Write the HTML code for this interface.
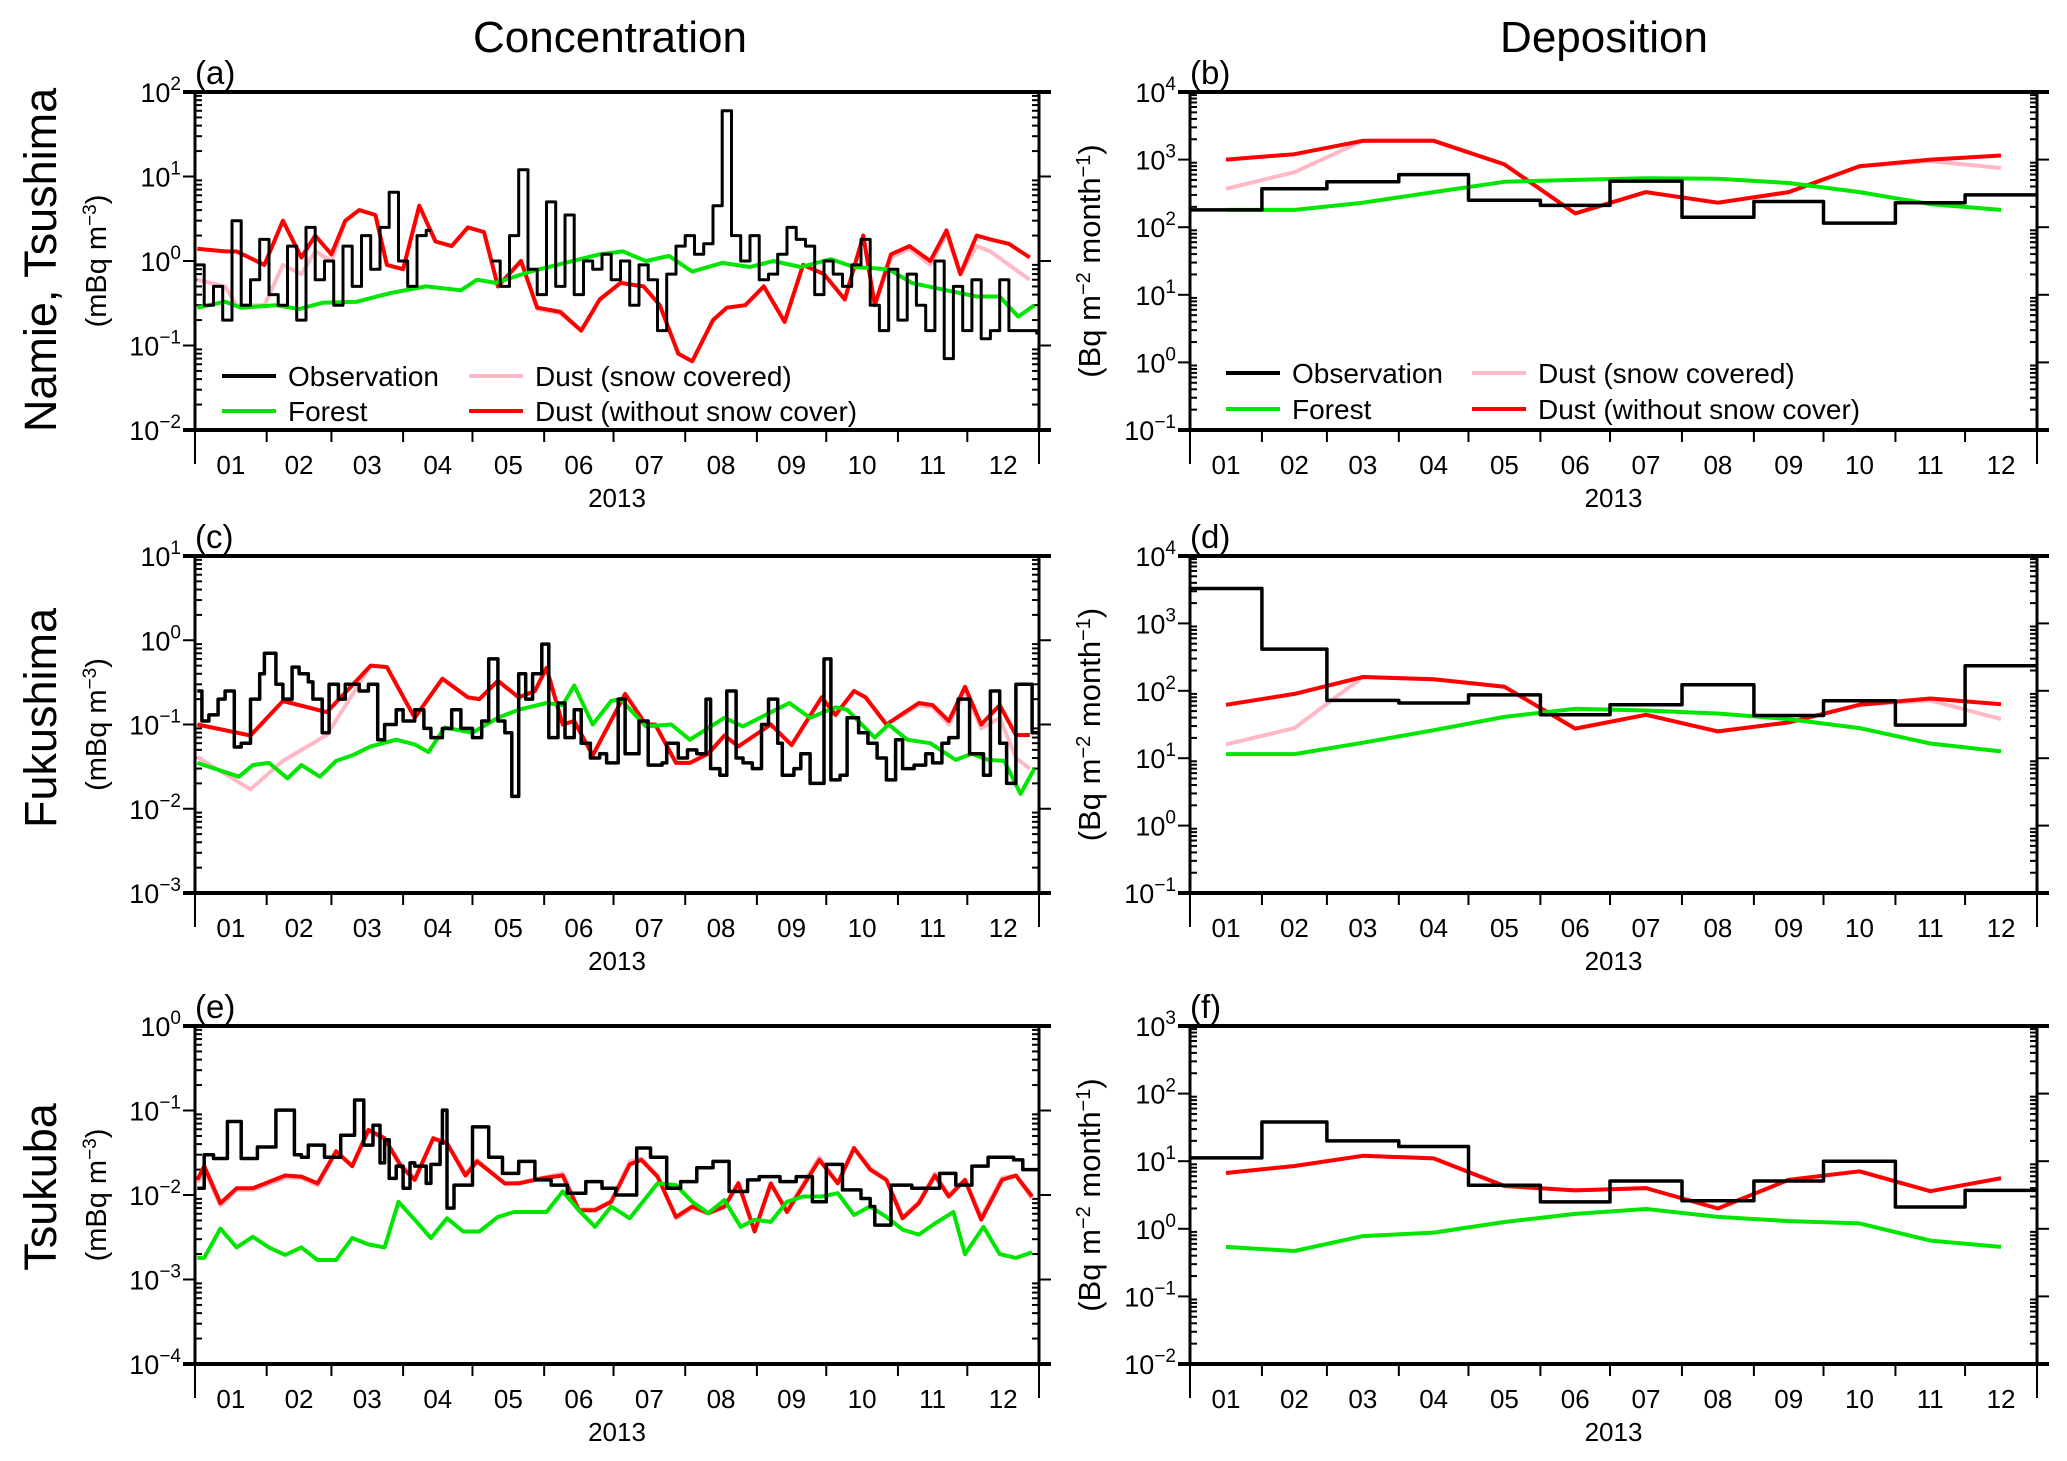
<!DOCTYPE html>
<html><head><meta charset="utf-8"><title>Concentration and Deposition 2013</title>
<style>
html,body{margin:0;padding:0;background:#fff;}
svg{display:block;font-family:"Liberation Sans",Arial,sans-serif;}
</style></head>
<body>
<svg id="fig" xmlns="http://www.w3.org/2000/svg" width="2067" height="1461" viewBox="0 0 2067 1461">
<rect x="0" y="0" width="2067" height="1461" fill="#fff"/>
<text x="610" y="52" font-size="44" text-anchor="middle">Concentration</text>
<text x="1604" y="52" font-size="44" text-anchor="middle">Deposition</text>
<text transform="translate(56,260) rotate(-90)" font-size="45" text-anchor="middle">Namie, Tsushima</text>
<text transform="translate(56,718) rotate(-90)" font-size="45" text-anchor="middle">Fukushima</text>
<text transform="translate(56,1187) rotate(-90)" font-size="45" text-anchor="middle">Tsukuba</text>
<g id="panels"></g>
</svg>
<script>
// ---------- data ----------
const monthLabels = ["01","02","03","04","05","06","07","08","09","10","11","12"];
const monthStarts = [0,31,59,90,120,151,181,212,243,273,304,334,365];

// (a) Namie, Tsushima concentration
const aObsDays = [0,4,8,12,16,20,24,28,32,36,40,44,48,52,56,60,64,68,72,76,80,84,88,92,96,100,102,
128,132,136,140,144,148,152,156,160,164,168,172,176,180,184,188,192,196,200,204,208,212,216,220,224,228,232,236,240,244,248,252,256,260,264,268,272,276,280,284,288,292,296,300,304,308,312,316,320,324,328,332,336,340,344,348,352,356,360,364];
const aObsVals = [0.9,0.3,0.5,0.2,3.0,0.3,0.6,1.8,0.4,0.3,1.5,0.2,2.5,0.6,1.0,0.3,1.5,0.5,2.0,0.8,2.5,6.5,1.0,0.5,2.0,2.3,null,
1.0,0.5,2.0,12,0.8,0.4,5.0,0.5,3.5,0.4,1.0,0.8,1.2,0.6,1.0,0.3,0.9,0.6,0.15,0.7,1.5,2.0,1.2,1.6,4.5,60,2.0,1.0,2.0,0.6,0.7,1.2,2.5,1.8,1.5,0.4,1.0,0.7,0.5,0.9,1.8,0.3,0.15,0.8,0.2,0.7,0.3,0.15,1.0,0.07,0.5,0.15,0.6,0.12,0.15,0.6,0.15,0.15,0.15,0.14];
const aDustDays = [1,13,18,30,38,46,52,59,65,71,78,83,90,97,104,111,118,125,131,141,148,158,167,175,184,194,201,209,215,224,230,238,246,255,263,272,281,289,294,301,309,318,325,331,338,344,352,361];
const aDustNoSnow = [1.4,1.3,1.3,0.9,3.0,1.1,2.0,1.2,3.0,4.0,3.5,0.9,0.8,4.5,1.7,1.5,2.5,2.2,0.5,1.0,0.28,0.25,0.15,0.35,0.55,0.5,0.3,0.08,0.065,0.2,0.28,0.3,0.5,0.19,0.9,0.7,0.35,2.0,0.3,1.2,1.5,1.0,2.3,0.7,2.0,1.8,1.6,1.1];
const aDustSnow = [0.6,0.5,0.3,0.3,0.9,0.7,1.3,1.0,3.0,4.0,3.5,0.9,0.8,4.5,1.7,1.5,2.5,2.2,0.5,1.0,0.27,0.24,0.15,0.35,0.55,0.5,0.3,0.08,0.065,0.2,0.28,0.3,0.5,0.19,0.9,0.7,0.35,2.0,0.3,1.1,1.4,0.9,2.1,0.7,1.5,1.3,0.9,0.6];
const aForestDays = [1,13,20,35,45,55,70,85,100,115,122,130,145,160,175,185,195,205,215,228,240,250,262,275,285,300,310,325,338,348,356,363];
const aForest = [0.28,0.33,0.28,0.3,0.27,0.32,0.33,0.42,0.5,0.45,0.6,0.55,0.75,0.95,1.2,1.3,1.0,1.15,0.75,0.95,0.85,1.0,0.85,1.05,0.85,0.8,0.55,0.45,0.38,0.38,0.22,0.3];

// (b) Namie, Tsushima deposition (monthly)
const bObs = [180,370,470,600,250,210,480,140,240,115,230,300];
const bDustNoSnow = [1000,1200,1900,1900,850,160,330,230,330,800,1000,1150];
const bDustSnow = [370,650,1900,1900,850,160,330,230,330,800,950,750];
const bForest = [180,180,230,330,470,500,530,520,450,330,220,180];

// (c) Fukushima concentration
const cObsDays = [1,3,6,10,13,17,20,24,28,30,35,38,42,45,49,51,55,58,62,65,71,75,79,82,87,90,95,99,102,107,111,115,120,124,127,131,134,137,140,143,146,150,153,157,160,164,167,171,175,178,183,186,192,196,202,204,209,213,217,221,223,227,230,234,237,241,245,248,252,254,259,262,266,268,272,275,279,282,287,291,295,299,303,306,311,316,319,323,326,330,335,341,344,348,351,355,358,362];
const cObsVals = [0.25,0.11,0.13,0.2,0.25,0.054,0.06,0.2,0.4,0.7,0.3,0.2,0.48,0.4,0.32,0.2,0.08,0.3,0.2,0.3,0.25,0.3,0.066,0.1,0.15,0.11,0.15,0.09,0.07,0.09,0.15,0.09,0.07,0.11,0.6,0.11,0.08,0.014,0.4,0.2,0.4,0.9,0.07,0.18,0.07,0.15,0.06,0.04,0.045,0.035,0.2,0.045,0.11,0.033,0.035,0.06,0.04,0.05,0.045,0.2,0.03,0.025,0.25,0.04,0.035,0.03,0.1,0.2,0.06,0.025,0.03,0.045,0.02,0.02,0.6,0.022,0.025,0.12,0.08,0.06,0.04,0.022,0.066,0.03,0.033,0.045,0.035,0.06,0.07,0.2,0.045,0.025,0.25,0.06,0.02,0.3,0.3,0.08];
const cDustDays = [1,24,38,57,76,83,95,107,118,123,131,140,147,152,159,164,172,186,195,199,208,214,222,229,235,249,258,271,277,285,290,299,313,319,326,333,340,348,355,361];
const cDustNoSnow = [0.10,0.074,0.19,0.14,0.5,0.48,0.12,0.35,0.21,0.2,0.33,0.21,0.25,0.47,0.10,0.11,0.043,0.23,0.10,0.10,0.035,0.035,0.045,0.074,0.055,0.10,0.057,0.21,0.13,0.25,0.21,0.10,0.18,0.17,0.11,0.28,0.10,0.17,0.075,0.075];
const cDustSnow = [0.041,0.017,0.037,0.075,0.5,0.48,0.12,0.35,0.21,0.2,0.33,0.21,0.25,0.47,0.10,0.11,0.043,0.23,0.10,0.10,0.035,0.035,0.045,0.074,0.055,0.10,0.057,0.21,0.13,0.25,0.21,0.10,0.17,0.16,0.10,0.25,0.09,0.12,0.04,0.03];
const cForestDays = [1,19,25,32,40,46,54,61,68,76,87,95,101,108,120,131,140,152,159,164,172,180,184,195,206,214,229,237,257,266,277,282,294,300,308,318,329,336,343,350,357,363];
const cForest = [0.035,0.024,0.033,0.035,0.023,0.033,0.024,0.037,0.043,0.055,0.066,0.058,0.047,0.092,0.08,0.12,0.15,0.18,0.17,0.29,0.1,0.19,0.2,0.095,0.1,0.066,0.12,0.095,0.18,0.12,0.16,0.15,0.07,0.1,0.066,0.06,0.038,0.045,0.038,0.037,0.015,0.03];

// (d) Fukushima deposition
const dObs = [3300,415,72,66,87,44,62,123,43,71,31,235];
const dDustNoSnow = [62,90,160,148,115,27.5,44,25,34,62,77,63];
const dDustSnow = [16,28,160,148,115,27.5,44,25,34,62,72,38];
const dForest = [11.5,11.5,17,26,41,54,51,46,38,28,16.5,12.6];

// (e) Tsukuba concentration
const eObsDays = [1,4,8,14,20,27,35,43,46,49,56,63,69,73,77,80,82,84,87,90,93,95,100,102,106,107,109,112,120,127,133,140,147,154,161,169,176,182,191,197,204,210,217,224,231,239,244,253,260,267,273,280,288,292,294,301,310,316,322,329,336,343,349,354,358];
const eObsVals = [0.012,0.030,0.027,0.074,0.027,0.037,0.101,0.030,0.028,0.039,0.028,0.051,0.133,0.039,0.067,0.024,0.045,0.0157,0.022,0.012,0.024,0.022,0.0137,0.023,0.041,0.101,0.007,0.0131,0.064,0.028,0.018,0.025,0.0151,0.0131,0.0105,0.0144,0.012,0.010,0.036,0.028,0.012,0.0144,0.021,0.025,0.011,0.0151,0.0165,0.0144,0.0165,0.0083,0.023,0.0115,0.0091,0.0073,0.0044,0.0131,0.012,0.012,0.018,0.0131,0.022,0.028,0.028,0.026,0.020];
const eDustDays = [1,4,11,18,25,39,46,53,61,68,75,82,89,95,103,109,117,122,134,140,150,159,166,173,180,188,193,200,208,215,222,229,235,242,249,256,270,278,285,292,299,306,313,320,326,333,340,349,355,362];
const eDustNoSnow = [0.0151,0.022,0.008,0.012,0.012,0.017,0.0165,0.0137,0.033,0.022,0.059,0.047,0.022,0.0151,0.047,0.041,0.017,0.025,0.0137,0.0137,0.0157,0.017,0.0066,0.0066,0.0083,0.023,0.026,0.0165,0.0055,0.0073,0.0061,0.0073,0.0137,0.0037,0.0137,0.0063,0.026,0.0137,0.036,0.020,0.0151,0.0053,0.008,0.017,0.0096,0.0151,0.0051,0.0151,0.017,0.0096];
const eDustSnow = [0.014,0.02,0.0075,0.0115,0.0115,0.016,0.016,0.013,0.032,0.022,0.057,0.046,0.023,0.016,0.046,0.04,0.018,0.026,0.0135,0.014,0.016,0.018,0.0068,0.0068,0.0085,0.025,0.027,0.017,0.0053,0.007,0.006,0.0072,0.014,0.0038,0.0135,0.0065,0.028,0.014,0.035,0.021,0.015,0.0055,0.0082,0.018,0.01,0.015,0.0055,0.016,0.017,0.009];
const eForestDays = [1,4,11,18,25,32,39,46,53,61,68,75,82,88,95,102,109,116,123,131,138,145,152,159,166,173,180,188,200,208,215,222,229,236,242,249,256,263,271,278,285,292,299,306,313,320,328,333,341,348,355,362];
const eForest = [0.0018,0.0018,0.0040,0.0024,0.0032,0.0024,0.00195,0.0024,0.0017,0.0017,0.0031,0.0026,0.0024,0.0083,0.0051,0.0031,0.0053,0.0037,0.0037,0.0055,0.0063,0.0063,0.0063,0.011,0.0066,0.0042,0.0073,0.0053,0.0137,0.0131,0.0083,0.0061,0.0087,0.0042,0.0051,0.0048,0.0083,0.0096,0.0096,0.0105,0.0058,0.0073,0.0055,0.0039,0.0034,0.0046,0.0063,0.0020,0.0042,0.0020,0.0018,0.0021];

// (f) Tsukuba deposition
const fObs = [11.2,38,20,16.5,4.4,2.5,5.1,2.6,5.1,10,2.1,3.7];
const fDustNoSnow = [6.7,8.5,12,11,4.3,3.7,4.0,2.0,5.3,7.1,3.6,5.6];
const fDustSnow = [6.7,8.5,12,11,4.3,3.7,4.0,2.0,5.3,7.1,3.6,5.6];
const fForest = [0.54,0.47,0.78,0.88,1.26,1.66,1.96,1.5,1.3,1.2,0.67,0.54];

// ---------- drawing ----------
const NS = "http://www.w3.org/2000/svg";
const root = document.getElementById('panels');
function mk(tag, attrs, parent){
  const e = document.createElementNS(NS, tag);
  for (const k in attrs) e.setAttribute(k, attrs[k]);
  (parent||root).appendChild(e);
  return e;
}
const C_RED="#ff0000", C_PINK="#ffb8c6", C_GREEN="#00e600", C_BLACK="#000";

function drawPanel(p){
  const g = mk('g', {});
  
  
  const x0=p.x0, x1=p.x1, y0=p.y0, y1=p.y1;
  const xs = d => x0 + (d/365)*(x1-x0);
  const ys = v => y1 - (Math.log10(v)-p.lo)/(p.hi-p.lo)*(y1-y0);
  const cp = mk('clipPath', {id:'clip-'+p.id}, g);
  mk('rect', {x:x0, y:y0, width:x1-x0, height:y1-y0}, cp);
  const lab = mk('text', {x:x0, y:y0-8, 'font-size':33}, g);
  lab.textContent = '(' + p.id + ')';
  
  
  const axG = mk('g', {stroke:'#000', 'stroke-width':2}, g);
  
  
  for (let e=p.lo; e<=p.hi; e++){
    const y = ys(Math.pow(10,e));
    mk('line', {x1:x0-12, y1:y, x2:x0, y2:y}, axG);
    mk('line', {x1:x1, y1:y, x2:x1+12, y2:y}, axG);
    const t = mk('text', {x:x0-14, y:y+10, 'font-size':27, 'text-anchor':'end', stroke:'none', fill:'#000'}, g);
    
    
    const s1 = mk('tspan', {}, t); s1.textContent = '10';
    const s2 = mk('tspan', {dy:-12, 'font-size':19}, t); s2.textContent = (e<0?'\u2212':'') + Math.abs(e);
    if (e<p.hi){
      for (let m=2;m<=9;m++){
        const ym = ys(m*Math.pow(10,e));
        mk('line', {x1:x0, y1:ym, x2:x0+7, y2:ym}, axG);
        mk('line', {x1:x1-7, y1:ym, x2:x1, y2:ym}, axG);
      }
    }
  }
  const yt = mk('text', {transform:`translate(${p.ytx},${(y0+y1)/2}) rotate(-90)`, 'font-size':p.kind==='conc'?29:31, 'text-anchor':'middle'}, g);
  
  
  if (p.kind==='conc'){
    const a=mk('tspan',{},yt); a.textContent='(mBq m';
    const b=mk('tspan',{dy:-10,'font-size':19},yt); b.textContent='\u22123';
    const c=mk('tspan',{dy:10},yt); c.textContent=')';
  } else {
    const a=mk('tspan',{},yt); a.textContent='(Bq m';
    const b=mk('tspan',{dy:-10,'font-size':20},yt); b.textContent='\u22122';
    const c=mk('tspan',{dy:10},yt); c.textContent=' month';
    const d=mk('tspan',{dy:-10,'font-size':20},yt); d.textContent='\u22121';
    const e=mk('tspan',{dy:10},yt); e.textContent=')';
  }
  const xg = mk('g', {stroke:'#000','stroke-width':2}, g);
  
  
  mk('line', {x1:x0, y1:y1, x2:x0, y2:y1+34}, xg);
  mk('line', {x1:x1, y1:y1, x2:x1, y2:y1+34}, xg);
  for (let i=1;i<12;i++){
    const x = xs(monthStarts[i]);
    mk('line', {x1:x, y1:y1, x2:x, y2:y1+12}, xg);
  }
  for (let i=0;i<12;i++){
    const t = mk('text', {x:xs((monthStarts[i]+monthStarts[i+1])/2), y:y1+44, 'font-size':26, 'text-anchor':'middle'}, g);
    t.textContent = monthLabels[i];
    
    
  }
  const yr = mk('text', {x:(x0+x1)/2, y:y1+77, 'font-size':26, 'text-anchor':'middle'}, g);
  yr.textContent = '2013';
  
  

  const sg = mk('g', {'clip-path':`url(#clip-${p.id})`, fill:'none', 'stroke-linejoin':'round'}, g);
  function poly(days, vals, color, w, name){
    let d='';
    for (let i=0;i<vals.length;i++) d += (i?'L':'M') + xs(days[i]).toFixed(1) + ' ' + ys(vals[i]).toFixed(1);
    const pl = mk('path', {d:d, stroke:color, 'stroke-width':w}, sg);
    
    
  }
  function steps(days, vals, endDay, color, w, name){
    let d='', pen=false;
    for (let i=0;i<vals.length;i++){
      if (vals[i]===null){ pen=false; continue; }
      const xa = xs(days[i]);
      const xb = xs(i+1<days.length ? days[i+1] : endDay);
      const y = ys(vals[i]).toFixed(1);
      d += (pen?'L':'M') + xa.toFixed(1) + ' ' + y + 'L' + xb.toFixed(1) + ' ' + y;
      pen = true;
    }
    const pl = mk('path', {d:d, stroke:color, 'stroke-width':w}, sg);
    
    
  }
  if (p.kind==='conc'){
    poly(p.dustDays, p.dustSnow, C_PINK, 4, 'dust-snow-covered-line');
    poly(p.dustDays, p.dustNoSnow, C_RED, 4, 'dust-without-snow-line');
    poly(p.forestDays, p.forest, C_GREEN, 4, 'forest-line');
    steps(p.obsDays, p.obsVals, 365, C_BLACK, p.obsW, 'observation-line');
  } else {
    const mids = monthStarts.slice(0,12).map((s,i)=>(s+monthStarts[i+1])/2);
    poly(mids, p.dustSnow, C_PINK, 4, 'dust-snow-covered-line');
    poly(mids, p.dustNoSnow, C_RED, 4, 'dust-without-snow-line');
    poly(mids, p.forest, C_GREEN, 4, 'forest-line');
    steps(monthStarts.slice(0,12), p.obs, 365, C_BLACK, 3.5, 'observation-line');
  }
  const fr = mk('g', {stroke:'#000'}, g);
  
  
  mk('line', {x1:x0-12, y1:y0, x2:x1+12, y2:y0, 'stroke-width':4}, fr);
  mk('line', {x1:x0-12, y1:y1, x2:x1+12, y2:y1, 'stroke-width':4}, fr);
  mk('line', {x1:x0, y1:y0, x2:x0, y2:y1, 'stroke-width':3}, fr);
  mk('line', {x1:x1, y1:y0, x2:x1, y2:y1, 'stroke-width':3}, fr);

  if (p.legend){
    const L = p.legend;
    const lg = mk('g', {}, g);
    
    
    const items = [
      [L.lx1, L.r1, C_BLACK, 'Observation'],
      [L.lx1, L.r2, C_GREEN, 'Forest'],
      [L.lx2, L.r1, C_PINK, 'Dust (snow covered)'],
      [L.lx2, L.r2, C_RED, 'Dust (without snow cover)']
    ];
    for (const it of items){
      const eg = mk('g', {}, lg);
      
      
      mk('line', {x1:it[0], y1:it[1], x2:it[0]+54, y2:it[1], stroke:it[2], 'stroke-width':4}, eg);
      const t = mk('text', {x:it[0]+66, y:it[1]+10, 'font-size':28}, eg);
      t.textContent = it[3];
    }
  }
}

const LX=195, RX=1039, LX2=1190, RX2=2037;
const rows=[[92,430],[556,893],[1026,1364]];
const panels = [
  {id:'a', kind:'conc', x0:LX, x1:RX, y0:rows[0][0], y1:rows[0][1], lo:-2, hi:2, ytx:106, obsW:3,
   obsDays:aObsDays, obsVals:aObsVals, dustDays:aDustDays, dustNoSnow:aDustNoSnow, dustSnow:aDustSnow, forestDays:aForestDays, forest:aForest,
   legend:{lx1:222, lx2:469, r1:376, r2:411}},
  {id:'b', kind:'dep', x0:LX2, x1:RX2, y0:rows[0][0], y1:rows[0][1], lo:-1, hi:4, ytx:1100,
   obs:bObs, dustNoSnow:bDustNoSnow, dustSnow:bDustSnow, forest:bForest,
   legend:{lx1:1226, lx2:1472, r1:373, r2:409}},
  {id:'c', kind:'conc', x0:LX, x1:RX, y0:rows[1][0], y1:rows[1][1], lo:-3, hi:1, ytx:106, obsW:3.5,
   obsDays:cObsDays, obsVals:cObsVals, dustDays:cDustDays, dustNoSnow:cDustNoSnow, dustSnow:cDustSnow, forestDays:cForestDays, forest:cForest},
  {id:'d', kind:'dep', x0:LX2, x1:RX2, y0:rows[1][0], y1:rows[1][1], lo:-1, hi:4, ytx:1100,
   obs:dObs, dustNoSnow:dDustNoSnow, dustSnow:dDustSnow, forest:dForest},
  {id:'e', kind:'conc', x0:LX, x1:RX, y0:rows[2][0], y1:rows[2][1], lo:-4, hi:0, ytx:106, obsW:3.5,
   obsDays:eObsDays, obsVals:eObsVals, dustDays:eDustDays, dustNoSnow:eDustNoSnow, dustSnow:eDustSnow, forestDays:eForestDays, forest:eForest},
  {id:'f', kind:'dep', x0:LX2, x1:RX2, y0:rows[2][0], y1:rows[2][1], lo:-2, hi:3, ytx:1100,
   obs:fObs, dustNoSnow:fDustNoSnow, dustSnow:fDustSnow, forest:fForest}
];
panels.forEach(drawPanel);
</script>
</body></html>
